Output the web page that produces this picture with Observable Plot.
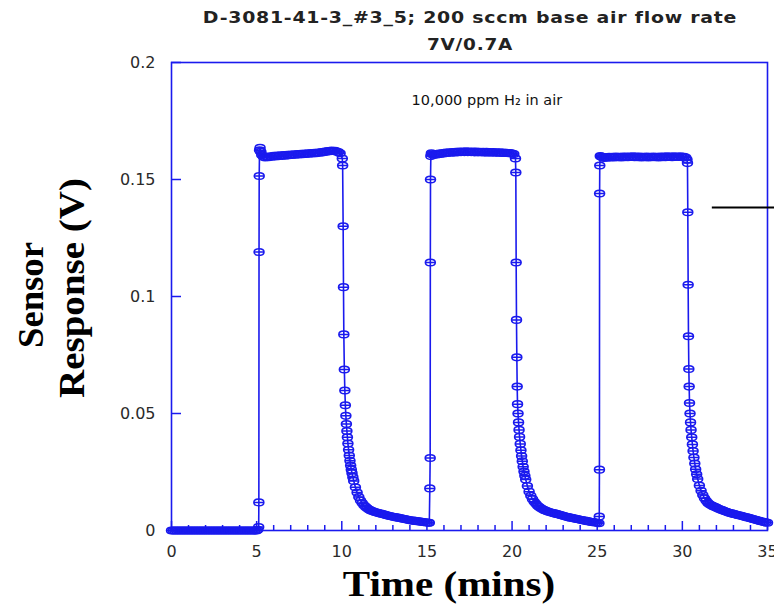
<!DOCTYPE html>
<html><head><meta charset="utf-8">
<script src="https://cdn.jsdelivr.net/npm/d3@7"></script>
<script src="https://cdn.jsdelivr.net/npm/@observablehq/plot@0.6"></script>
<style>
html,body{margin:0;padding:0;background:#fff;}
#wrap{position:relative;width:774px;height:606px;overflow:hidden;background:#fff;}
#chart{position:absolute;left:0;top:0;}
.t{position:absolute;white-space:nowrap;}
.title{font-family:"DejaVu Sans",sans-serif;font-weight:bold;font-size:15px;color:#222;letter-spacing:0.6px;}
.lab{font-family:"Liberation Serif",serif;font-weight:bold;font-size:36px;color:#000;}
</style></head><body>
<div id="wrap">
<div id="chart"></div>
<div class="t title" id="t1" style="left:470px;top:18px"></div>
<div class="t title" id="t2" style="left:470px;top:45px"></div>
<div class="t lab" id="yl1" style="left:31px;top:295px"></div>
<div class="t lab" id="yl2" style="left:72px;top:288px"></div>
<div class="t lab" id="xl" style="left:449px;top:584px"></div>
</div>
<script>
const titleLines = ["D-3081-41-3_#3_5; 200 sccm base air flow rate", "7V/0.7A"];
const yLabelLines = ["Sensor", "Response (V)"];
const xLabel = "Time (mins)";

const xMajor = [0, 5, 10, 15, 20, 25, 30, 35];
const xTickLabels = ["0", "5", "10", "15", "20", "25", "30", "35"];
const xMinor = [1,2,3,4,6,7,8,9,11,12,13,14,16,17,18,19,21,22,23,24,26,27,28,29,31,32,33,34];
const yTicks = [0, 0.05, 0.1, 0.15, 0.2];
const yTickLabels = ["0", "0.05", "0.1", "0.15", "0.2"];

const note = [{x: 14.1, y: 0.184, text: "10,000 ppm H\u2082 in air"}];
const pointer = [{x1: 31.76, x2: 35.6, y: 0.138}];

// [time (min), response (V)]
const baseline = [[0,0],[0.1,0],[0.2,0],[0.3,0],[0.4,0],[0.5,0],[0.6,0],[0.7,0],[0.8,0],[0.9,0],[1,0],[1.1,0],[1.2,0],[1.3,0],[1.4,0],[1.5,0],[1.6,0],[1.7,0],[1.8,0],[1.9,0],[2,0],[2.1,0],[2.2,0],[2.3,0],[2.4,0],[2.5,0],[2.6,0],[2.7,0],[2.8,0],[2.9,0],[3,0],[3.1,0],[3.2,0],[3.3,0],[3.4,0],[3.5,0],[3.6,0],[3.7,0],[3.8,0],[3.9,0],[4,0],[4.1,0],[4.2,0],[4.3,0],[4.4,0],[4.5,0],[4.6,0],[4.7,0],[4.8,0],[4.9,0],[5,0],[5.06,0.0003]];

const cycle1 = [[5.12,0.0015],[5.13,0.012],[5.14,0.119],[5.15,0.1515],[5.17,0.1625],[5.2,0.1635],[5.25,0.1618],
[5.3,0.1605],[5.4,0.1597],[5.5,0.1594],[5.6,0.1597],[5.7,0.1595],[5.8,0.1599],[5.9,0.1597],[6,0.1601],[6.1,0.1598],[6.2,0.1602],[6.3,0.16],[6.4,0.1603],[6.5,0.1601],[6.6,0.1604],[6.7,0.1602],[6.8,0.1606],[6.9,0.1604],[7,0.1607],[7.1,0.1605],[7.2,0.1608],[7.3,0.1606],[7.4,0.1609],[7.5,0.1607],[7.6,0.161],[7.7,0.1608],[7.8,0.1611],[7.9,0.1609],[8,0.1612],[8.1,0.161],[8.2,0.1613],[8.3,0.1611],[8.4,0.1614],[8.5,0.1612],[8.6,0.1615],[8.7,0.1614],[8.8,0.1617],[8.9,0.1616],[9,0.1619],[9.1,0.1619],[9.2,0.1622],[9.3,0.1621],[9.4,0.1624],[9.5,0.1622],[9.6,0.1623],[9.7,0.1619],[9.8,0.1617],[9.9,0.1612],
[10.03,0.159],[10.05,0.156],[10.08,0.13],[10.1,0.104],[10.12,0.0838],[10.15,0.0688],[10.18,0.0598],[10.21,0.0535],[10.24,0.049],[10.27,0.0455],[10.3,0.0425],[10.33,0.0398],[10.36,0.0372],[10.4,0.0345],[10.44,0.032],[10.48,0.0298],[10.52,0.0278],[10.56,0.026],[10.6,0.0245],[10.65,0.0228],
[10.7,0.0212],[10.8,0.0185],[10.9,0.0162],[11,0.0143],[11.1,0.0128],[11.2,0.0117],[11.3,0.0108],[11.4,0.0101],[11.5,0.0095],[11.6,0.009],[11.7,0.0086],[11.8,0.0083],[11.9,0.008],[12,0.0078],[12.1,0.0076],[12.2,0.0074],[12.3,0.0072],[12.4,0.007],[12.5,0.0068],[12.6,0.0066],[12.7,0.0064],[12.8,0.0062],[12.9,0.0061],[13,0.0059],[13.1,0.0058],[13.2,0.0056],[13.3,0.0055],[13.4,0.0053],[13.5,0.0052],[13.6,0.005],[13.7,0.0049],[13.8,0.0047],[13.9,0.0046],[14,0.0044],[14.1,0.0043],[14.2,0.0042],[14.3,0.0041],[14.4,0.004],[14.5,0.0039],[14.6,0.0038],[14.7,0.0037],[14.8,0.0036],[14.9,0.0035],[15,0.0034],[15.1,0.0033],[15.14,0.0033]];

const cycle2 = [[15.17,0.018],[15.19,0.031],[15.2,0.1145],[15.21,0.15],[15.23,0.16],[15.26,0.1612],
[15.3,0.1608],[15.4,0.1605],[15.5,0.1609],[15.6,0.1607],[15.7,0.1611],[15.8,0.1609],[15.9,0.1613],[16,0.1611],[16.1,0.1615],[16.2,0.1613],[16.3,0.1616],[16.4,0.1614],[16.5,0.1617],[16.6,0.1615],[16.7,0.1618],[16.8,0.1616],[16.9,0.1619],[17,0.1617],[17.1,0.1619],[17.2,0.1617],[17.3,0.162],[17.4,0.1617],[17.5,0.1619],[17.6,0.1617],[17.7,0.1619],[17.8,0.1616],[17.9,0.1619],[18,0.1616],[18.1,0.1618],[18.2,0.1616],[18.3,0.1618],[18.4,0.1615],[18.5,0.1618],[18.6,0.1615],[18.7,0.1617],[18.8,0.1615],[18.9,0.1617],[19,0.1614],[19.1,0.1616],[19.2,0.1614],[19.3,0.1616],[19.4,0.1613],[19.5,0.1615],[19.6,0.1613],[19.7,0.1614],[19.8,0.1612],[19.9,0.1613],[20,0.1611],[20.1,0.1609],
[20.2,0.159],[20.22,0.153],[20.24,0.1145],[20.26,0.09],[20.28,0.074],[20.3,0.0615],[20.32,0.054],[20.35,0.05],[20.38,0.0462],[20.41,0.043],[20.44,0.04],[20.48,0.037],[20.52,0.0343],[20.56,0.0318],[20.6,0.0296],[20.65,0.0272],[20.7,0.0252],[20.75,0.0234],
[20.8,0.0218],[20.9,0.019],[21,0.0166],[21.1,0.0148],[21.2,0.0134],[21.3,0.0123],[21.4,0.0114],[21.5,0.0106],[21.6,0.01],[21.7,0.0095],[21.8,0.0091],[21.9,0.0087],[22,0.0084],[22.1,0.0081],[22.2,0.0079],[22.3,0.0077],[22.4,0.0075],[22.5,0.0073],[22.6,0.0071],[22.7,0.0069],[22.8,0.0067],[22.9,0.0065],[23,0.0063],[23.1,0.0061],[23.2,0.0059],[23.3,0.0057],[23.4,0.0055],[23.5,0.0054],[23.6,0.0052],[23.7,0.0051],[23.8,0.0049],[23.9,0.0048],[24,0.0046],[24.1,0.0045],[24.2,0.0043],[24.3,0.0042],[24.4,0.004],[24.5,0.0039],[24.6,0.0037],[24.7,0.0036],[24.8,0.0035],[24.9,0.0034],[25,0.0033],[25.1,0.0031]];

const cycle3 = [[25.12,0.006],[25.13,0.026],[25.14,0.144],[25.15,0.156],[25.18,0.16],[25.22,0.1598],
[25.3,0.1595],[25.4,0.1592],[25.5,0.1596],[25.6,0.1593],[25.7,0.1597],[25.8,0.1594],[25.9,0.1597],[26,0.1594],[26.1,0.1598],[26.2,0.1595],[26.3,0.1597],[26.4,0.1594],[26.5,0.1598],[26.6,0.1595],[26.7,0.1598],[26.8,0.1595],[26.9,0.1598],[27,0.1596],[27.1,0.1599],[27.2,0.1595],[27.3,0.1598],[27.4,0.1595],[27.5,0.1598],[27.6,0.1594],[27.7,0.1597],[27.8,0.1595],[27.9,0.1598],[28,0.1594],[28.1,0.1597],[28.2,0.1595],[28.3,0.1598],[28.4,0.1595],[28.5,0.1597],[28.6,0.1594],[28.7,0.1598],[28.8,0.1595],[28.9,0.1598],[29,0.1595],[29.1,0.1599],[29.2,0.1596],[29.3,0.1598],[29.4,0.1595],[29.5,0.1599],[29.6,0.1596],[29.7,0.1598],[29.8,0.1596],[29.9,0.1599],[30,0.1596],[30.1,0.1597],[30.2,0.1594],
[30.27,0.1585],[30.3,0.157],[30.32,0.136],[30.34,0.105],[30.36,0.083],[30.38,0.069],[30.4,0.0615],[30.42,0.0545],[30.45,0.05],[30.48,0.0462],[30.51,0.043],[30.55,0.0398],[30.59,0.0368],[30.63,0.034],[30.68,0.0312],[30.73,0.0286],[30.78,0.0262],[30.84,0.024],
[30.9,0.022],[31,0.0192],[31.1,0.017],[31.2,0.0152],[31.3,0.0138],[31.4,0.0127],[31.5,0.0118],[31.6,0.0112],[31.7,0.0108],[31.8,0.0104],[31.9,0.0101],[32,0.0098],[32.1,0.0094],[32.2,0.0091],[32.3,0.0088],[32.4,0.0085],[32.5,0.0082],[32.6,0.008],[32.7,0.0077],[32.8,0.0075],[32.9,0.0073],[33,0.0071],[33.1,0.0069],[33.2,0.0067],[33.3,0.0065],[33.4,0.0064],[33.5,0.0062],[33.6,0.006],[33.7,0.0058],[33.8,0.0056],[33.9,0.0054],[34,0.0052],[34.1,0.005],[34.2,0.0048],[34.3,0.0046],[34.4,0.0044],[34.5,0.0042],[34.6,0.004],[34.7,0.0038],[34.8,0.0036],[34.9,0.0035],[35,0.0033]];

// place label texts and stretch them to the reference's extents
function place(id, text, targetWidth, rotated) {
  const el = document.getElementById(id);
  el.textContent = text;
  const s = targetWidth / el.offsetWidth;
  el.style.transform = "translate(-50%,-50%)" + (rotated ? " rotate(-90deg)" : "") + " scaleX(" + s + ")";
}
place("t1", titleLines[0], 534, false);
place("t2", titleLines[1], 86, false);
place("yl1", yLabelLines[0], 106, true);
place("yl2", yLabelLines[1], 220, true);
place("xl", xLabel, 212, false);

const BLUE = "#1a1aee";
const series = [...baseline, ...cycle1, ...cycle2, ...cycle3].map(([t, v]) => ({t, v}));

const marker = {
  draw(ctx) {
    ctx.moveTo(-5, 0);
    ctx.bezierCurveTo(-5, -4.4, 5, -4.4, 5, 0);
    ctx.bezierCurveTo(5, 4.4, -5, 4.4, -5, 0);
    ctx.moveTo(-5, 0);
    ctx.lineTo(5, 0);
  }
};

const W = 774, H = 606, ML = 171, MR = 7, MT = 62, MB = 76;
const fw = W - ML - MR, fh = H - MT - MB;

const chart = Plot.plot({
  width: W, height: H,
  marginLeft: ML, marginRight: MR, marginTop: MT, marginBottom: MB,
  x: {domain: [0, 35]},
  y: {domain: [0, 0.2]},
  style: {fontFamily: "DejaVu Sans, sans-serif", fontSize: "16px", color: "#2a2a2a", background: "white", overflow: "visible"},
  marks: [
    Plot.axisX({ticks: xMajor, tickSize: 0, tickPadding: 15, tickFormat: d => xTickLabels[xMajor.indexOf(d)], label: null, letterSpacing: "1.2px"}),
    Plot.axisY({ticks: yTicks, tickSize: 0, tickPadding: 16, tickFormat: d => yTickLabels[yTicks.indexOf(d)], label: null, letterSpacing: "1.2px"}),
    Plot.tickX(xMinor, {x: d => d, stroke: BLUE, strokeWidth: 1.5, insetTop: fh - 5}),
    Plot.tickX(xMajor, {x: d => d, stroke: BLUE, strokeWidth: 1.5, insetTop: fh - 9}),
    Plot.tickY(yTicks, {y: d => d, stroke: BLUE, strokeWidth: 1.5, insetRight: fw - 10}),
    Plot.frame({stroke: BLUE, strokeWidth: 1.6}),
    Plot.line(series, {x: "t", y: "v", stroke: BLUE, strokeWidth: 1.6}),
    Plot.dot(series, {x: "t", y: "v", symbol: marker, stroke: BLUE, strokeWidth: 1.5, fill: "none"}),
    Plot.ruleY(pointer, {y: "y", x1: "x1", x2: "x2", stroke: "black", strokeWidth: 2, clip: false}),
    Plot.text(note, {x: "x", y: "y", text: "text", textAnchor: "start", fontSize: 14.5, fill: "#111", letterSpacing: "1px"})
  ]
});
document.getElementById("chart").appendChild(chart);
</script>
</body></html>
